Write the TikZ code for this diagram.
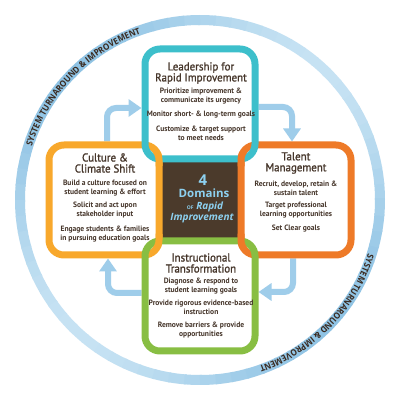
\documentclass[tikz,border=0pt]{standalone}
\usepackage{fontspec}
\setmainfont{PT Sans}
\newfontfamily\bodyfont[FakeStretch=0.98]{PT Sans}
\newfontfamily\titlefont[FakeStretch=0.95,FakeBold=1.2]{PT Sans}
\newfontfamily\ringfont[FakeStretch=0.92]{Open Sans}
\newfontfamily\corefont{Open Sans}
\usetikzlibrary{arrows.meta,decorations.text}
\definecolor{brownT}{HTML}{45352A}
\definecolor{ringtext}{HTML}{3A2A20}
\definecolor{tealC}{HTML}{3DBFCB}
\definecolor{orangeC}{HTML}{EE7A28}
\definecolor{yellowC}{HTML}{F8A82C}
\definecolor{greenC}{HTML}{88BE43}
\definecolor{sqbrown}{HTML}{4B3A2B}
\definecolor{centerblue}{HTML}{8DD0EF}
\definecolor{arrowC}{HTML}{9FCDEA}
\definecolor{ringdark}{HTML}{8FC3E4}
\definecolor{ringlight}{HTML}{C6E2F3}
\tikzset{
  boxspot/.style={minimum size=110pt, inner sep=0pt, outer sep=0pt},
  domainbox/.style={line width=7pt, rounded corners=15pt},
  flowarrow/.style={draw=arrowC, line width=6pt, rounded corners=9pt, -{Triangle[width=17pt,length=13pt]}},
  titletext/.style={text=brownT, font=\titlefont\fontsize{11.5}{11}\selectfont, align=center, inner sep=0pt},
  bodytext/.style={text=brownT, font=\bodyfont\bfseries\fontsize{7.7}{9}\selectfont, align=center, inner sep=0pt},
  centertext/.style={text=centerblue, inner sep=0pt, anchor=base},
}
\begin{document}
\begin{tikzpicture}[x=1pt,y=1pt]
\useasboundingbox (0,0) rectangle (400,400);
\fill[white] (0,0) rectangle (400,400);
% ring
\node[circle, minimum size=360pt, inner sep=0pt] (ring) at (200,200) {};
\foreach \a in {0,5,...,355}{
  \pgfmathsetmacro\t{50+50*cos(2*(\a-45))}
  \colorlet{rc}{ringlight!\t!ringdark}
  \draw[rc, line width=10pt] ([shift={(\a:180pt)}]ring.center) arc[start angle=\a, end angle=\a+5.6, radius=180pt];
}
\path[decorate, decoration={text along path, text align=center,
  text={|\ringfont\bfseries\fontsize{8.8}{10}\selectfont\color{ringtext}|SYSTEM TURNAROUND {\&} IMPROVEMENT}}]
  ([shift={(170:176.5pt)}]ring.center) arc[start angle=170, end angle=102, radius=176.5pt];
\path[decorate, decoration={text along path, text align=center,
  text={|\ringfont\bfseries\fontsize{8.8}{10}\selectfont\color{ringtext}|SYSTEM TURNAROUND {\&} IMPROVEMENT}}]
  ([shift={(-10:176.5pt)}]ring.center) arc[start angle=-10, end angle=-78, radius=176.5pt];
% box positions
\node[boxspot] (lead) at (200,296) {};
\node[boxspot] (cult) at (104,200) {};
\node[boxspot] (tal) at (296,200) {};
\node[boxspot] (instr) at (200,104) {};
% centre square
\node[fill=sqbrown, minimum size=82pt, inner sep=0pt] (core) at (200,200) {};
% arrows
\draw[flowarrow] ([xshift=3pt,yshift=3.5pt]cult.north) |- ([xshift=-3.5pt,yshift=-4pt]lead.west);
\draw[flowarrow] ([xshift=3.5pt,yshift=-3pt]lead.east) -| ([xshift=-4pt,yshift=3.5pt]tal.north);
\draw[flowarrow] ([xshift=-3pt,yshift=-3.5pt]tal.south) |- ([xshift=3.5pt,yshift=4pt]instr.east);
\draw[flowarrow] ([xshift=-3.5pt,yshift=3pt]instr.west) -| ([xshift=4pt,yshift=-3.5pt]cult.south);
% boxes
\draw[domainbox, yellowC] (cult.south west) rectangle (cult.north east);
\draw[domainbox, orangeC] (tal.south west) rectangle (tal.north east);
\draw[domainbox, tealC] (lead.south west) rectangle (lead.north east);
\draw[domainbox, greenC] (instr.south west) rectangle (instr.north east);
% inner crossings: yellow and orange on top
\begin{scope}
  \clip (159,241) circle (8pt) (159,159) circle (8pt);
  \draw[domainbox, yellowC] (cult.south west) rectangle (cult.north east);
\end{scope}
\begin{scope}
  \clip (241,241) circle (8pt) (241,159) circle (8pt);
  \draw[domainbox, orangeC] (tal.south west) rectangle (tal.north east);
\end{scope}
% texts: leadership
\node[titletext] (leadT) at (201,327) {Leadership for\\Rapid Improvement};
\node[bodytext] (leadA) at (201,304) {Prioritize improvement \&\\communicate its urgency};
\node[bodytext] (leadB) at (201,285.5) {Monitor short- \& long-term goals};
\node[bodytext] (leadC) at (201,267) {Customize \& target support\\to meet needs};
% culture
\node[titletext] (cultT) at (105,237) {Culture \&\\Climate Shift};
\node[bodytext] (cultA) at (105,211.5) {Build a culture focused on\\student learning \& effort};
\node[bodytext] (cultB) at (105,189.5) {Solicit and act upon\\stakeholder input};
\node[bodytext] (cultC) at (105,166) {Engage students \& families\\in pursuing education goals};
% talent
\node[titletext] (talT) at (296,237) {Talent\\Management};
\node[bodytext] (talA) at (296,212) {Recruit, develop, retain \&\\sustain talent};
\node[bodytext] (talB) at (296,189.5) {Target professional\\learning opportunities};
\node[bodytext] (talC) at (296,171) {Set Clear goals};
% instructional
\node[titletext] (insT) at (201,137) {Instructional\\Transformation};
\node[bodytext] (insA) at (201,114) {Diagnose \& respond to\\student learning goals};
\node[bodytext] (insB) at (201,93) {Provide rigorous evidence-based\\instruction};
\node[bodytext] (insC) at (201,70) {Remove barriers \& provide\\opportunities};
% centre text
\node[centertext, font=\corefont\bfseries\fontsize{15}{15}\selectfont] (c4) at (203,214) {4};
\node[centertext, font=\corefont\bfseries\fontsize{11.5}{12}\selectfont] (cD) at (204,202) {Domains};
\node[centertext] (cR) at (205,190) {{\corefont\bfseries\fontsize{5}{6}\selectfont OF} {\corefont\bfseries\itshape\fontsize{10}{12}\selectfont Rapid}};
\node[centertext, font=\corefont\bfseries\itshape\fontsize{10}{12}\selectfont] (cI) at (202,179) {Improvement};
\end{tikzpicture}
\end{document}
